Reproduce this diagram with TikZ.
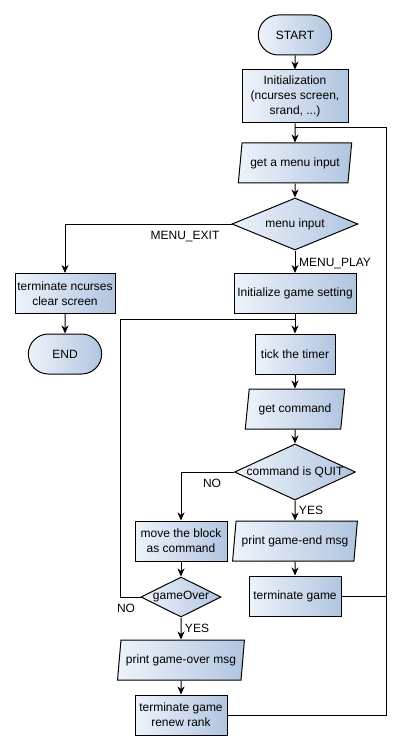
\documentclass[tikz,border=0pt]{standalone}
\usepackage{fontspec}
\setmainfont{Liberation Sans}
\usetikzlibrary{shapes.geometric,shapes.misc,arrows.meta}
\definecolor{fillL}{HTML}{EEF3FA}
\definecolor{fillR}{HTML}{B1C5E0}

\begin{document}
\begin{tikzpicture}[x=1pt,y=-1pt,line width=1pt,font=\fontsize{12}{15}\selectfont,
	shade/.style={draw,left color=fillL,right color=fillR},
	proc/.style={shade,rectangle,align=center,inner sep=1pt,minimum height=40pt},
	term/.style={shade,rounded rectangle,minimum width=80pt,minimum height=40pt},
	io/.style={shade,trapezium,trapezium left angle=80,trapezium right angle=100,
		trapezium stretches=true,minimum height=40pt,inner xsep=0pt},
	decision/.style={shade,diamond,inner sep=0pt},
	flow/.style={-{Stealth[length=8pt,width=7pt,inset=2.5pt]}}]
	\path[use as bounding box] (0,0) rectangle (402,751);

	% main menu
	\node [term] (start) at (295,35) {START};
	\node [proc,minimum width=106pt,minimum height=53pt] (init) at (295,96.5) {Initialization\\(ncurses screen,\\srand, ...)};
	\node [io,minimum width=114pt] (menuin) at (295,163) {get a menu input};
	\node [decision,minimum width=126pt,minimum height=52pt,label=center:menu input] (menu) at (295,224) {};
	\node [proc,minimum width=100pt] (quitn) at (65,293.5) {terminate ncurses\\clear screen};
	\node [term] (stop) at (65,354) {END};
	\node [proc,minimum width=122pt] (setting) at (295,293.5) {Initialize game setting};

	% game loop
	\node [proc,minimum width=80pt] (tick) at (295,354) {tick the timer};
	\node [io,minimum width=100pt] (getcmd) at (295,409) {get command};
	\node [decision,minimum width=121pt,minimum height=56pt,label=center:command is QUIT] (quit) at (295,472) {};
	\node [io,minimum width=125pt] (endmsg) at (295,541) {print game-end msg};
	\node [proc,minimum width=92pt] (termg) at (295,596) {terminate game};
	\node [proc,minimum width=92pt] (move) at (181,541) {move the block\\as command};
	\node [decision,minimum width=80pt,minimum height=40pt,label=center:gameOver] (over) at (181,597) {};
	\node [io,minimum width=127pt] (overmsg) at (181,660) {print game-over msg};
	\node [proc,minimum width=92pt] (termr) at (181,715) {terminate game\\renew rank};

	% labels
	\node (lexit) at (185,237) {MENU\_EXIT};
	\node (lplay) at (335,264) {MENU\_PLAY};
	\node (lno1) at (212,483) {NO};
	\node (lyes1) at (311,510) {YES};
	\node (lno2) at (126,608) {NO};
	\node (lyes2) at (197,628) {YES};

	% joints
	\coordinate (j1) at (295,128);
	\coordinate (r1) at (386,128);
	\coordinate (j2) at (295,319);
	\coordinate (l1) at (120,319);

	\draw [flow] (start) -- (init);
	\draw [flow] (init) -- (menuin);
	\draw [flow] (menuin) -- (menu);
	\draw [flow] (menu.west) -| (quitn.north);
	\draw [flow] (menu.south) -- (setting);
	\draw [flow] (quitn) -- (stop);
	\draw [flow] (setting) -- (tick);
	\draw [flow] (tick) -- (getcmd);
	\draw [flow] (getcmd) -- (quit.north);
	\draw [flow] (quit.west) -| (move.north);
	\draw [flow] (quit.south) -- (endmsg);
	\draw [flow] (endmsg) -- (termg);
	\draw [flow] (move) -- (over.north);
	\draw [flow] (over.south) -- (overmsg);
	\draw [flow] (overmsg) -- (termr);
	\draw (over.west) -| (l1) -- (j2);
	\draw (termr.east) -| (r1) -- (j1);
	\draw (termg.east) -- (termg.east -| r1);
\end{tikzpicture}
\end{document}
